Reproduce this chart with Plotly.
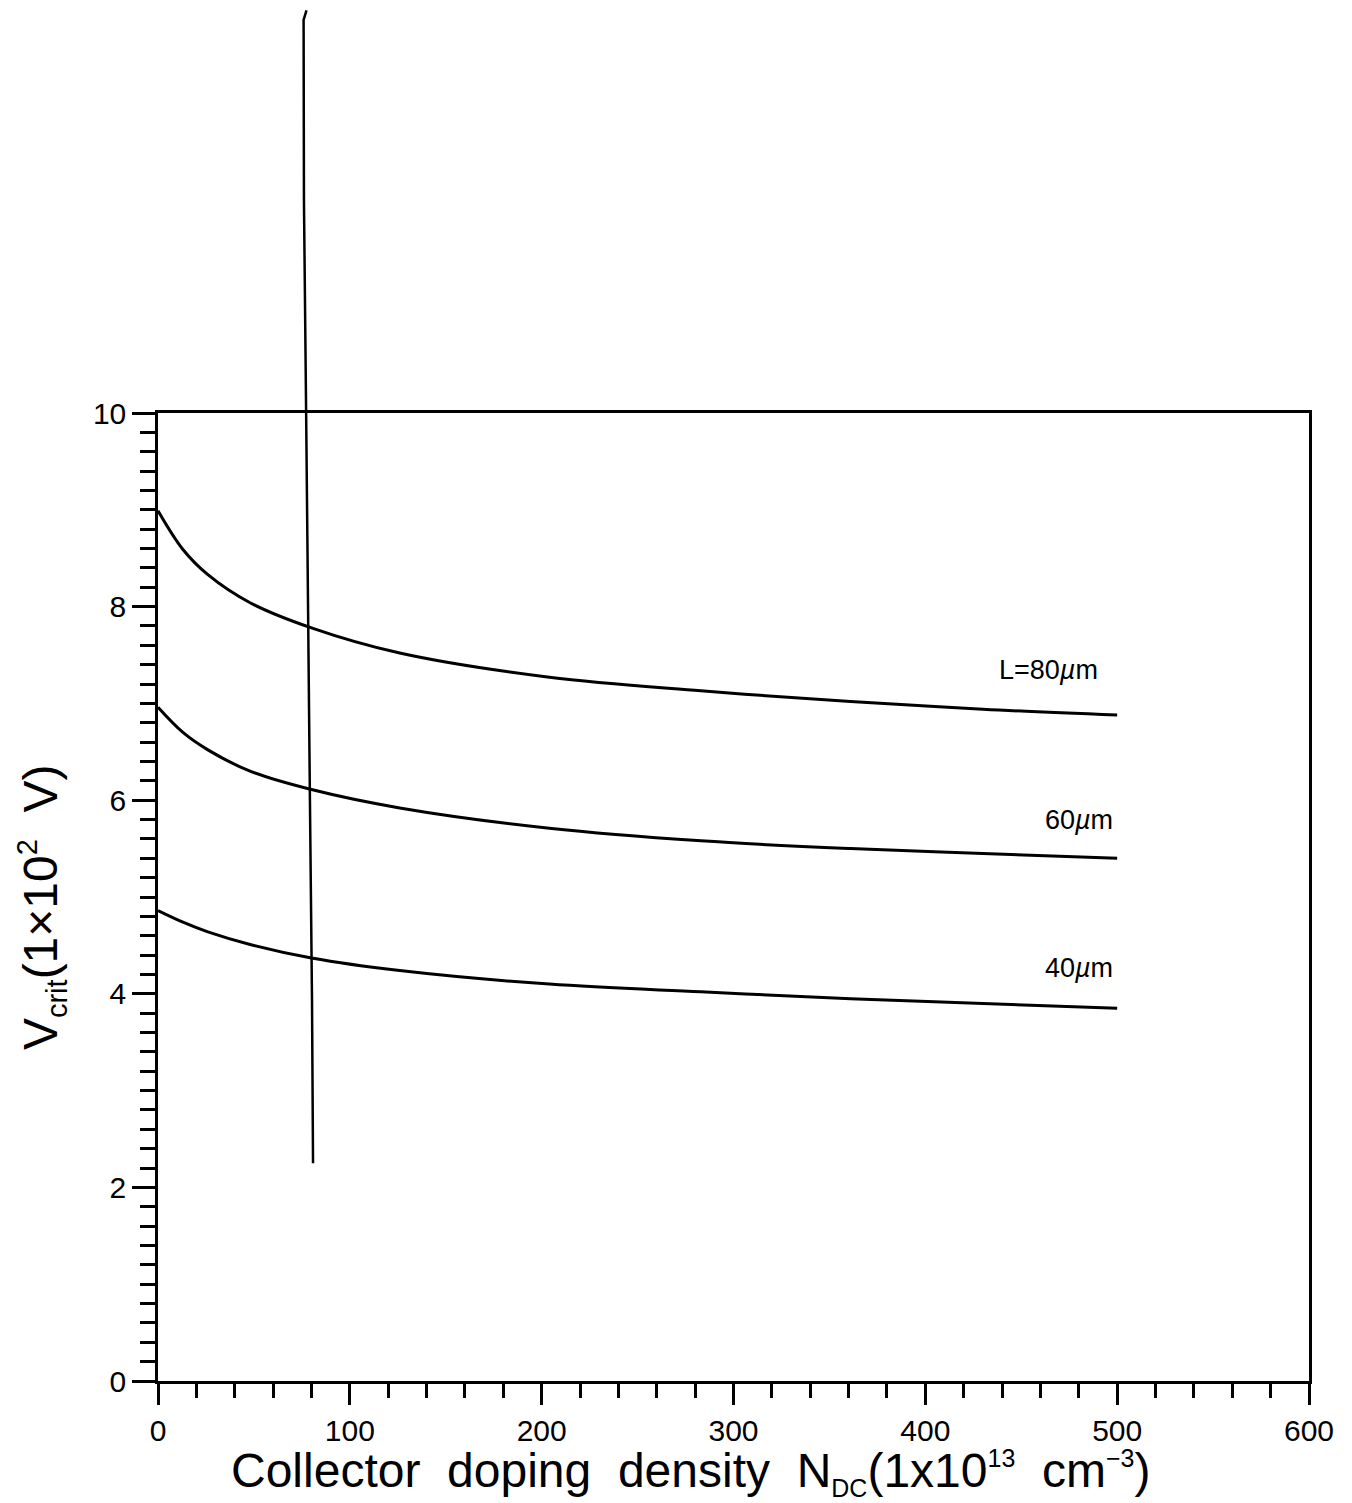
import plotly.graph_objects as go

# Collector doping density N_DC (1e13 cm^-3)
ndc = [0, 13, 26, 48, 80, 126, 204, 283, 361, 430, 500]

# Critical voltage V_crit (1e2 V) for three collector widths
vcrit_80um = [8.99, 8.59, 8.33, 8.04, 7.78, 7.52, 7.27, 7.13, 7.02, 6.94, 6.88]
vcrit_60um = [6.96, 6.70, 6.52, 6.30, 6.11, 5.92, 5.71, 5.58, 5.50, 5.45, 5.40]
vcrit_40um = [4.86, 4.74, 4.64, 4.51, 4.37, 4.24, 4.10, 4.02, 3.95, 3.90, 3.85]

curve_labels = ["L=80<i>µ</i>m", "60<i>µ</i>m", "40<i>µ</i>m"]
label_x = [464, 480, 480]
label_y = [7.35, 5.80, 4.27]

# Marker line drawn across the figure (data units)
marker_x = [77.4, 75.9, 76.1, 77.2, 78.2, 79.2, 80.3, 80.8]
marker_y = [14.16, 14.06, 12.2, 10.0, 8.07, 6.0, 3.94, 2.25]

X_RANGE = [0, 600]
Y_RANGE = [0, 10]

FONT = "Liberation Sans"

fig = go.Figure()
for ys in (vcrit_80um, vcrit_60um, vcrit_40um):
    fig.add_trace(go.Scatter(
        x=ndc, y=ys, mode="lines", line=dict(color="black", width=3, shape="spline", smoothing=1.0),
        showlegend=False, hoverinfo="skip",
    ))

for txt, lx, ly in zip(curve_labels, label_x, label_y):
    fig.add_annotation(x=lx, y=ly, text=txt, showarrow=False,
                       font=dict(family=FONT, size=27, color="black"))

# Convert the marker line to paper coordinates so it can extend past the plot area
px = [(v - X_RANGE[0]) / (X_RANGE[1] - X_RANGE[0]) for v in marker_x]
py = [(v - Y_RANGE[0]) / (Y_RANGE[1] - Y_RANGE[0]) for v in marker_y]
path = "M " + " L ".join(f"{a:.4f},{b:.4f}" for a, b in zip(px, py))
fig.add_shape(type="path", path=path, xref="paper", yref="paper",
              line=dict(color="black", width=2.5), layer="above")

axis_common = dict(
    showgrid=False, zeroline=False, showline=True, linecolor="black", linewidth=2.5,
    mirror=True, ticks="outside", tickcolor="black", tickwidth=2.5,
    tickfont=dict(family=FONT, size=30, color="black"),
)

fig.update_xaxes(
    range=X_RANGE, dtick=100, tick0=0, ticklen=21,
    minor=dict(dtick=20, ticklen=14, ticks="outside", tickcolor="black", tickwidth=2.5),
    **axis_common,
)
fig.update_yaxes(
    range=Y_RANGE, dtick=2, tick0=0, ticklen=23,
    minor=dict(dtick=0.2, ticklen=15, ticks="outside", tickcolor="black", tickwidth=2.5),
    **axis_common,
)

small = "<span style='font-size:29px'>{}</span>"
smaller = "<span style='font-size:25px'>{}</span>"

# Axis titles
fig.add_annotation(
    text=("Collector\u00a0\u00a0doping\u00a0\u00a0density\u00a0\u00a0N<sub>" + smaller.format("DC")
          + "</sub>(1x10<sup>" + smaller.format("13") + "</sup>\u00a0\u00a0cm<sup>"
          + smaller.format("−3") + "</sup>)"),
    xref="paper", yref="paper", x=0.062, y=-0.095, xanchor="left", yanchor="middle",
    showarrow=False, font=dict(family=FONT, size=48, color="black"),
)
fig.add_annotation(
    text="V<sub>" + small.format("crit") + "</sub>(1×10<sup>" + small.format("2") + "</sup>\u00a0\u00a0V)",
    xref="paper", yref="paper", x=-0.130, y=0.49, xanchor="left", yanchor="middle",
    textangle=-90, showarrow=False, font=dict(family=FONT, size=48, color="black"),
)

fig.update_layout(
    width=1352, height=1503,
    margin=dict(l=158, r=43, t=413, b=122),
    paper_bgcolor="white", plot_bgcolor="white",
)

fig.write_html("out.html")
